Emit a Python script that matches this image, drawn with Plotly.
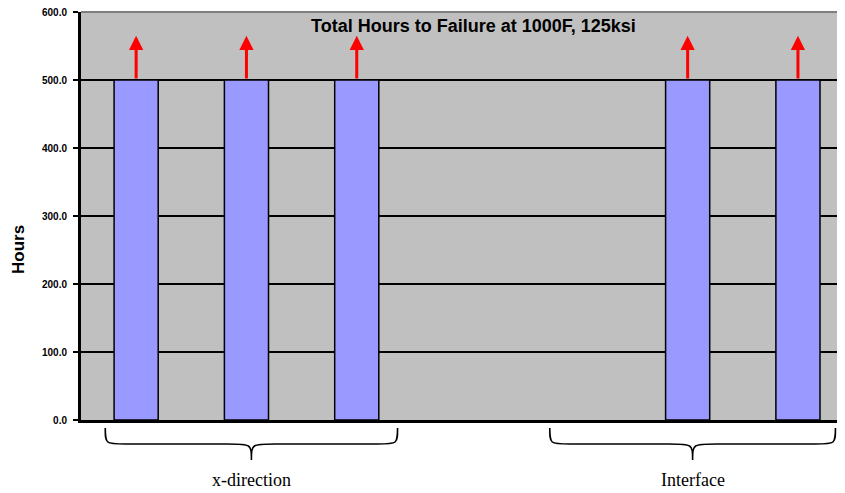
import plotly.graph_objects as go

# ---- data ----
categories = ["x1", "x2", "x3", "gap1", "gap2", "i1", "i2"]
hours = [500, 500, 500, None, None, 500, 500]
runout_tip = [565, 565, 565, None, None, 565, 565]   # arrow tips (test still running)
y_ticks = [0, 100, 200, 300, 400, 500, 600]
y_tick_labels = ["0.0", "100.0", "200.0", "300.0", "400.0", "500.0", "600.0"]
group_names = ["x-direction", "Interface"]
group_spans = [(-0.28, 2.37), (3.75, 6.34)]   # category-position spans of the braces

title_text = "Total Hours to Failure at 1000F, 125ksi"
y_title = "Hours"

OFF = 8  # page body margin in the browser
W, H = 845 - OFF, 493 - OFF
ML, MR, MT, MB = 81 - OFF, 0, 12 - OFF, 73
slot_px = 110.3
x0 = -0.5
x1 = x0 + (W - ML - MR) / slot_px
plot_h = H - MT - MB

def px_to_paper_y(py):
    # py: reference-screen pixel
    return (H - MB - (py - OFF)) / plot_h

def px_to_paper_x(px):
    return ((px - OFF) - ML) / (W - ML - MR)

def cat_to_paper_x(c):
    return (c - x0) / (x1 - x0)

tick_font = dict(family="Arial, Liberation Sans, sans-serif", size=10,
                 color="black", weight="bold")

fig = go.Figure()
fig.add_trace(go.Bar(
    x=categories, y=hours, width=0.4,
    marker=dict(color="#9999FF", line=dict(color="black", width=1.5)),
    showlegend=False,
))

# runout arrows
for c, v, t in zip(categories, hours, runout_tip):
    if v is None or t is None:
        continue
    fig.add_annotation(
        x=c, y=t, ax=c, ay=v, xref="x", yref="y", axref="x", ayref="y",
        text="", showarrow=True, arrowhead=2, arrowsize=0.95, arrowwidth=3,
        arrowcolor="#FF0000",
    )

shapes = []
# top border
shapes.append(dict(type="line", xref="paper", yref="paper", x0=0, x1=1, y0=1, y1=1,
                   line=dict(color="#7F7F7F", width=2)))

# braces
yTop = px_to_paper_y(428)
yMid = px_to_paper_y(444)
yTip = px_to_paper_y(460)
for (a, b), name in zip(group_spans, group_names):
    xa, xb = cat_to_paper_x(a), cat_to_paper_x(b)
    xc = (xa + xb) / 2
    de = 20 / (W - ML - MR)
    dc = 24 / (W - ML - MR)
    path = (f"M{xa},{yTop} C{xa},{yMid} {xa},{yMid} {xa+de},{yMid} "
            f"L{xc-dc},{yMid} C{xc},{yMid} {xc},{yMid} {xc},{yTip} "
            f"C{xc},{yMid} {xc},{yMid} {xc+dc},{yMid} "
            f"L{xb-de},{yMid} C{xb},{yMid} {xb},{yMid} {xb},{yTop}")
    shapes.append(dict(type="path", xref="paper", yref="paper", path=path,
                       line=dict(color="black", width=1.6)))
    fig.add_annotation(x=xc, y=px_to_paper_y(480), xref="paper", yref="paper",
                       text=name, showarrow=False, xanchor="center", yanchor="middle",
                       font=dict(family="Liberation Serif, Times New Roman, serif",
                                 size=18, color="black"))

# chart title inside plot
fig.add_annotation(x=px_to_paper_x(473), y=px_to_paper_y(26), xref="paper", yref="paper",
                   text=title_text, showarrow=False, xanchor="center", yanchor="middle",
                   font=dict(family="Arial, Liberation Sans, sans-serif", size=18,
                             color="black", weight="bold"))

# y-axis title
fig.add_annotation(x=px_to_paper_x(19), y=px_to_paper_y(250), xref="paper", yref="paper",
                   text=y_title, showarrow=False, textangle=-90,
                   xanchor="center", yanchor="middle",
                   font=dict(family="Arial, Liberation Sans, sans-serif", size=17,
                             color="black", weight="bold"))

# top tick label (would be auto-hidden at the paper edge)
axis_tick_text = list(y_tick_labels)
axis_tick_text[-1] = ""
fig.add_annotation(x=px_to_paper_x(69), y=y_ticks[-1], xref="paper", yref="y",
                   text=y_tick_labels[-1], showarrow=False, xanchor="right",
                   yanchor="middle", font=tick_font)

fig.update_layout(
    width=W, height=H,
    margin=dict(l=ML, r=MR, t=MT, b=MB),
    plot_bgcolor="#C0C0C0", paper_bgcolor="white",
    shapes=shapes,
    xaxis=dict(type="category", categoryorder="array", categoryarray=categories,
               range=[x0, x1], showticklabels=False, ticks="", showgrid=False,
               showline=True, linecolor="black", linewidth=3, zeroline=False),
    yaxis=dict(range=[0, 600], tickvals=y_ticks, ticktext=axis_tick_text,
               showgrid=True, gridcolor="black", gridwidth=2, zeroline=False,
               showline=True, linecolor="black", linewidth=3,
               ticks="outside", ticklen=5, tickwidth=2, tickcolor="black",
               ticklabelstandoff=4, tickfont=tick_font),
    font=dict(family="Arial, Liberation Sans, sans-serif"),
)

fig.write_html("out.html")
